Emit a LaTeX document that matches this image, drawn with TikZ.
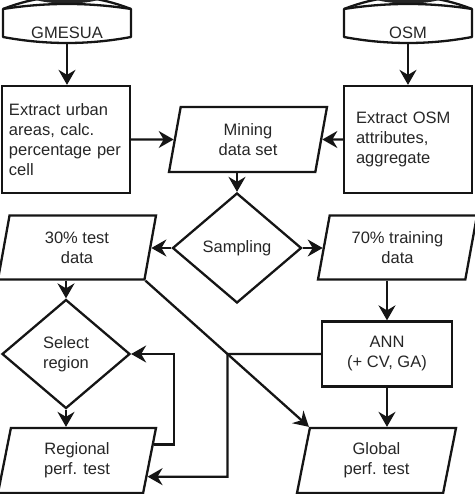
\documentclass[tikz,border=0pt]{standalone}
\usepackage{fontspec}
\setmainfont{Liberation Sans}
\usetikzlibrary{shapes.geometric,arrows.meta,calc}
\definecolor{ink}{HTML}{151515}
\definecolor{txt}{HTML}{262626}
\tikzset{
  dbshape/.pic={
    \fill[black!85] (67,-6) ellipse [x radius=40, y radius=9.5];
    \draw[line width=2.3pt, draw=ink] (3,9) .. controls (45.7,-7.7) and (88.3,-7.7) .. (131,9);
    \draw[line width=2.3pt, draw=ink, line join=round, fill=white] (3,9) .. controls (45.7,2.3) and (88.3,2.3) .. (131,9) -- (131,37) .. controls (88.3,45) and (45.7,45) .. (3,37) -- cycle;
  }
}
\begin{document}
\begin{tikzpicture}[x=1pt,y=-1pt,
  every node/.style={font=\fontsize{16.5}{20}\selectfont, text=txt},
  line/.style={line width=2.3pt, draw=ink},
  arr/.style={line, -{Stealth[length=15pt,width=17pt,inset=5pt]}},
  box/.style={line, rectangle, inner sep=0pt},
  dia/.style={line, diamond, inner sep=0pt, align=center},
  para/.style={line, trapezium, trapezium left angle=70, trapezium right angle=110, trapezium stretches body, inner sep=0pt, align=center},
]
\useasboundingbox (0,0) rectangle (474,494);
\begin{scope}
\clip (0,0) rectangle (474,494);
\pic at (0,0) {dbshape};
\pic at (341,0) {dbshape};
\end{scope}
\node[minimum width=128pt, minimum height=20pt, inner sep=0pt] (gm) at (67,33) {GMESUA};
\node[minimum width=128pt, minimum height=20pt, inner sep=0pt] (osm) at (408,33) {OSM};

\node[box, minimum width=128pt, minimum height=107pt, text width=114pt, align=left] (ex1) at (66,139.5) {Extract urban\\areas, calc.\\percentage per\\cell};
\node[box, minimum width=128pt, minimum height=107pt, text width=104pt, align=left] (ex2) at (408,139.5) {Extract OSM\\attributes,\\aggregate};
\node[para, minimum width=158pt, minimum height=65pt] (mine) at (248,139.5) {Mining\\data set};
\node[dia, minimum width=129pt, minimum height=110pt] (samp) at (237,248) {Sampling};
\node[para, minimum width=158pt, minimum height=64pt] (t30) at (77,247.5) {30\% test\\data};
\node[para, minimum width=159pt, minimum height=64pt] (t70) at (397.5,247.5) {70\% training\\data};
\node[box, minimum width=130pt, minimum height=65pt, align=center] (ann) at (387,354) {ANN\\(+ CV, GA)};
\node[dia, minimum width=128pt, minimum height=109pt] (sel) at (66,354) {Select\\region};
\node[para, minimum width=158pt, minimum height=65pt] (reg) at (77,460.5) {Regional\\perf. test};
\node[para, minimum width=159pt, minimum height=65pt] (glob) at (376.5,460.5) {Global\\perf. test};

\draw[arr] (gm.south) -- (gm.south |- ex1.north);
\draw[arr] (osm.south) -- (osm.south |- ex2.north);
\draw[arr] (ex1) -- (mine);
\draw[arr] (ex2) -- (mine);
\draw[arr] (samp.north |- mine.south) -- (samp.north);
\draw[arr] (samp.west) -- (samp.west -| t30.east);
\draw[arr] (samp.east) -- (samp.east -| t70.west);
\draw[arr] (ann.north |- t70.south) -- (ann.north);
\draw[arr] (sel.north |- t30.south) -- (sel.north);
\draw[arr] (sel.south) -- (sel.south |- reg.north);
\draw[arr] (ann.south) -- (ann.south |- glob.north);
\draw[arr] (t30.bottom right corner) -- (glob.top left corner);
\coordinate (j) at (intersection of t30.bottom right corner--glob.top left corner and ann.west--sel.east);
\coordinate (r1) at ($(reg.east)!0.48!(reg.bottom right corner)$);
\draw[arr] (ann.west) -- (j) |- (r1);
\coordinate (r2) at ($(reg.top right corner)!0.52!(reg.east)$);
\coordinate (lp) at ($(sel.east)+(43,0)$);
\draw[arr] (r2) -| (lp) -- (sel.east);
\end{tikzpicture}
\end{document}
